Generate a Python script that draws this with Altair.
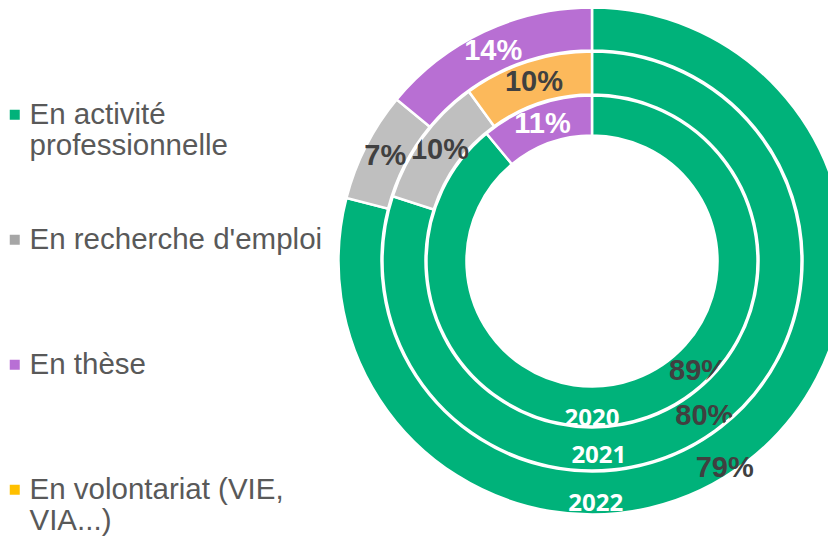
import math
import altair as alt
import pandas as pd

# ---------------- data ----------------
categories = [
    "En activité professionnelle",
    "En recherche d'emploi",
    "En thèse",
    "En volontariat (VIE, VIA...)",
]
years = ["2020", "2021", "2022"]
values_2020 = [89, 0, 11, 0]
values_2021 = [80, 10, 0, 10]
values_2022 = [79, 7, 14, 0]

ring_colors = ["#00B27A", "#BFBFBF", "#B86FD3", "#FCB95B"]
legend_colors = ["#00B27A", "#A6A6A6", "#B86FD5", "#FFC000"]

rows = []
for yr, vals in zip(years, [values_2020, values_2021, values_2022]):
    for i, (c, v) in enumerate(zip(categories, vals)):
        if v > 0:
            rows.append({"year": yr, "category": c, "order": i, "value": v,
                         "label": f"{v}%"})
df = pd.DataFrame(rows)
df_years = pd.DataFrame({"year": years})
df_legend = pd.DataFrame({"category": categories})

# ---------------- layout ----------------
CX, CY = 584, 253
rings = {  # inner, outer, text radius, year radius, year theta
    "2020": (125.5, 165.5, 146, 158, math.pi),
    "2021": (166.5, 209.5, 188, 195, math.pi - 0.035),
    "2022": (210.5, 253.5, 232, 243, math.pi - 0.015),
}
green_label = {  # radius, thetaOffset for green value label
    "2020": (153, -0.42),
    "2021": (191, 0.0),
    "2022": (246, 0.09),
}
GREEN = categories[0]

theta_enc = alt.Theta("value:Q", stack=True, scale=alt.Scale(domain=[0, 100]))
fill_scale = alt.Scale(domain=categories, range=ring_colors)
pos = dict(x=alt.value(CX), y=alt.value(CY))

layers = []
for yr in years:
    r_in, r_out, r_txt, r_year, t_year = rings[yr]
    base = alt.Chart(df).transform_filter(alt.datum.year == yr)
    arcs = base.mark_arc(radius=r_out, radius2=r_in, stroke="white",
                         strokeWidth=2.5).encode(
        theta=theta_enc,
        fill=alt.Fill("category:N", scale=fill_scale, legend=None),
        order=alt.Order("order:Q"),
        **pos,
    )
    txt = base.mark_text(radius=r_txt, font="Liberation Sans", fontSize=29,
                         fontWeight="bold").encode(
        theta=theta_enc,
        order=alt.Order("order:Q"),
        text=alt.condition(alt.datum.category != GREEN,
                           alt.Text("label:N"), alt.value("")),
        color=alt.condition(alt.datum.category == "En thèse",
                            alt.value("white"), alt.value("#404040")),
        **pos,
    )
    gr, gt = green_label[yr]
    gtxt = base.mark_text(radius=gr, thetaOffset=gt, font="Liberation Sans",
                          fontSize=29, fontWeight="bold",
                          color="#404040").encode(
        theta=theta_enc,
        order=alt.Order("order:Q"),
        text=alt.condition(alt.datum.category == GREEN,
                           alt.Text("label:N"), alt.value("")),
        **pos,
    )
    ytxt = alt.Chart(df_years).transform_filter(alt.datum.year == yr).mark_text(
        radius=r_year, theta=t_year, font="Open Sans", fontSize=24,
        fontWeight="bold", color="white").encode(text="year:N", **pos)
    layers += [arcs, txt, gtxt, ytxt]

label_expr = (
    "datum.label == 'En activité professionnelle' ? ['En activité', 'professionnelle'] : "
    "datum.label == 'En volontariat (VIE, VIA...)' ? ['En volontariat (VIE,', 'VIA...)'] : "
    "[datum.label, '']"
)
legend_layer = alt.Chart(df_legend).mark_arc(radius=0, radius2=0).encode(
    color=alt.Color(
        "category:N",
        scale=alt.Scale(domain=categories, range=legend_colors),
        legend=alt.Legend(
            orient="none", legendX=-8, legendY=92, direction="vertical",
            title=None, symbolType="square", symbolSize=100,
            symbolStrokeWidth=0, symbolOpacity=1,
            labelFont="Liberation Sans", labelFontSize=29.5,
            labelColor="#595959", labelLimit=500, labelOffset=0,
            rowPadding=63, padding=0, labelExpr=label_expr,
        ),
    ),
    **pos,
)

chart = alt.layer(legend_layer, *layers).properties(
    width=820, height=530, padding=0, autosize="none", background="white"
).configure_view(stroke=None)

chart.save("out.html", embed_options={"renderer": "svg", "actions": False})
